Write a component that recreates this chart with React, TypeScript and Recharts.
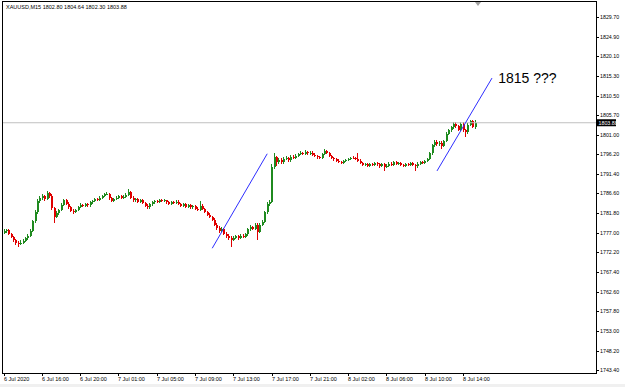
import { ComposedChart, Bar, XAxis, YAxis, ReferenceLine, ReferenceDot } from 'recharts';

// XAUUSD M15, 6 Jul 12:00 -> 8 Jul 15:15
const FIRST_OPEN = 1777.0;
const closes = [
  1777.3, 1777.6, 1776.8, 1776.0, 1775.2, 1774.5, 1774.2, 1774.6, 1775.0, 1775.6,
  1776.3, 1777.5, 1779.8, 1782.0, 1784.8, 1785.4, 1785.9, 1785.2, 1786.6, 1786.0,
  1783.0, 1780.8, 1781.8, 1782.5, 1783.8, 1784.9, 1784.0, 1783.2, 1782.4, 1782.0,
  1782.5, 1783.3, 1783.8, 1783.5, 1784.0, 1783.7, 1784.4, 1784.8, 1785.3, 1785.0,
  1785.6, 1786.0, 1786.4, 1786.5, 1785.4, 1784.8, 1785.3, 1785.6, 1785.9, 1785.5,
  1785.8, 1786.3, 1787.0, 1785.6, 1784.9, 1785.2, 1784.6, 1785.0, 1784.2, 1783.6,
  1783.2, 1783.9, 1784.4, 1784.8, 1784.6, 1785.0, 1784.7, 1784.9, 1784.4, 1784.1,
  1784.5, 1784.2, 1784.6, 1784.0, 1783.6, 1783.9, 1783.4, 1783.8, 1783.2, 1783.5,
  1782.9, 1782.6, 1783.6, 1782.8, 1782.0, 1781.4, 1780.9, 1780.2, 1779.0, 1778.2,
  1777.4, 1777.9, 1776.8, 1776.2, 1775.8, 1775.3, 1775.7, 1776.1, 1775.7, 1776.3,
  1776.0, 1776.6, 1777.8, 1778.4, 1778.0, 1778.9, 1777.2, 1779.0, 1779.6, 1782.0,
  1784.0, 1784.5, 1793.0, 1795.5, 1794.3, 1794.8, 1794.2, 1795.0, 1795.3, 1794.7,
  1795.6, 1795.2, 1795.8, 1796.2, 1796.5, 1796.3, 1796.7, 1796.4, 1796.6, 1796.1,
  1795.8, 1795.5, 1795.2, 1796.3, 1796.9, 1796.6, 1795.8, 1795.2, 1794.9, 1794.6,
  1794.3, 1794.0, 1794.5, 1794.8, 1795.0, 1795.3, 1795.2, 1795.0, 1794.6, 1794.0,
  1793.6, 1793.8, 1793.4, 1793.7, 1793.5, 1794.0, 1793.7, 1793.3, 1793.8, 1793.0,
  1793.4, 1793.9, 1793.6, 1794.2, 1793.9, 1794.1, 1793.6, 1793.3, 1793.8, 1793.5,
  1794.0, 1793.6, 1793.2, 1793.9, 1794.2, 1794.0, 1794.5, 1795.0, 1796.4, 1798.4,
  1799.2, 1798.6, 1799.0, 1798.2, 1799.4, 1801.2, 1802.0, 1802.8, 1803.5, 1803.0,
  1802.2, 1803.6, 1802.0, 1801.5, 1803.4, 1804.2, 1802.8, 1803.88,
];
const highs = [
  1777.8, 1778.0, 1777.9, 1777.0, 1776.3, 1775.5, 1774.9, 1775.1, 1775.4, 1776.0,
  1776.8, 1778.0, 1780.2, 1782.5, 1785.2, 1786.0, 1786.5, 1786.3, 1787.3, 1787.0,
  1786.4, 1783.4, 1782.2, 1782.9, 1784.2, 1785.3, 1785.3, 1784.4, 1783.6, 1782.8,
  1782.9, 1783.6, 1784.2, 1784.1, 1784.3, 1784.3, 1784.7, 1785.1, 1785.6, 1785.6,
  1785.9, 1786.3, 1786.7, 1787.0, 1786.8, 1785.7, 1785.6, 1785.9, 1786.2, 1786.2,
  1786.1, 1786.6, 1787.6, 1787.3, 1785.9, 1785.5, 1785.5, 1785.3, 1785.3, 1784.5,
  1783.9, 1784.2, 1784.7, 1785.1, 1785.1, 1785.3, 1785.3, 1785.2, 1785.1, 1784.7,
  1784.8, 1784.8, 1784.9, 1784.9, 1784.3, 1784.2, 1784.2, 1784.1, 1784.1, 1783.8,
  1783.8, 1783.2, 1784.8, 1783.9, 1783.1, 1782.3, 1781.7, 1781.2, 1780.5, 1779.4,
  1778.6, 1778.3, 1778.2, 1777.2, 1776.6, 1776.1, 1776.1, 1776.5, 1776.5, 1776.6,
  1776.7, 1776.9, 1778.1, 1778.8, 1778.7, 1779.3, 1779.3, 1779.4, 1780.2, 1782.4,
  1784.4, 1785.0, 1793.8, 1796.4, 1795.8, 1795.3, 1795.2, 1795.5, 1795.8, 1795.6,
  1796.0, 1795.9, 1796.3, 1796.6, 1796.9, 1796.8, 1797.1, 1797.0, 1796.9, 1796.9,
  1796.4, 1796.1, 1795.8, 1796.6, 1797.4, 1797.2, 1796.8, 1796.1, 1795.5, 1795.2,
  1794.9, 1794.6, 1794.8, 1795.1, 1795.3, 1795.6, 1795.7, 1795.5, 1796.4, 1794.9,
  1794.3, 1794.1, 1794.1, 1794.0, 1794.0, 1794.3, 1794.3, 1794.0, 1794.1, 1794.1,
  1793.7, 1794.2, 1794.2, 1794.5, 1794.5, 1794.4, 1794.4, 1793.9, 1794.1, 1794.1,
  1794.3, 1794.3, 1793.9, 1794.2, 1794.5, 1794.5, 1794.8, 1795.3, 1796.8, 1798.8,
  1799.6, 1799.7, 1799.4, 1799.3, 1799.7, 1801.6, 1802.4, 1803.2, 1804.1, 1804.0,
  1803.4, 1804.0, 1804.1, 1802.4, 1803.7, 1804.6, 1804.5, 1804.64,
];
const lows = [
  1776.7, 1777.0, 1776.5, 1775.7, 1774.8, 1774.0, 1773.6, 1773.9, 1774.3, 1774.8,
  1775.3, 1776.0, 1777.2, 1779.4, 1781.6, 1784.3, 1785.0, 1784.8, 1785.0, 1785.6,
  1782.6, 1779.4, 1780.5, 1781.4, 1782.2, 1783.5, 1783.7, 1782.8, 1782.0, 1781.6,
  1781.7, 1782.2, 1783.0, 1783.2, 1783.2, 1783.4, 1783.4, 1784.1, 1784.5, 1784.7,
  1784.7, 1785.3, 1785.7, 1786.1, 1785.1, 1784.4, 1784.5, 1785.0, 1785.3, 1785.2,
  1785.2, 1785.5, 1786.0, 1785.3, 1784.5, 1784.6, 1784.3, 1784.3, 1783.9, 1783.2,
  1782.8, 1782.9, 1783.6, 1784.1, 1784.3, 1784.3, 1784.4, 1784.4, 1784.1, 1783.8,
  1783.8, 1783.9, 1783.9, 1783.7, 1783.3, 1783.3, 1783.0, 1783.1, 1782.9, 1782.9,
  1782.6, 1782.2, 1782.3, 1782.5, 1781.7, 1781.0, 1780.5, 1779.8, 1778.6, 1777.7,
  1777.0, 1777.1, 1776.4, 1775.8, 1775.2, 1773.5, 1775.0, 1775.4, 1775.2, 1775.4,
  1775.6, 1775.8, 1776.3, 1777.5, 1777.6, 1777.7, 1775.2, 1777.0, 1778.7, 1779.3,
  1781.6, 1783.6, 1784.2, 1792.6, 1793.2, 1793.9, 1793.8, 1793.9, 1794.7, 1794.3,
  1794.4, 1794.9, 1794.9, 1795.5, 1795.9, 1795.9, 1796.0, 1796.1, 1796.1, 1795.8,
  1795.5, 1795.1, 1794.9, 1795.0, 1796.0, 1796.3, 1795.5, 1794.9, 1794.5, 1794.3,
  1794.0, 1793.7, 1793.7, 1794.2, 1794.5, 1794.7, 1794.9, 1794.7, 1794.3, 1793.7,
  1793.2, 1793.3, 1793.1, 1793.1, 1793.2, 1793.2, 1793.4, 1792.9, 1793.0, 1792.2,
  1792.7, 1793.1, 1793.3, 1793.3, 1793.6, 1793.6, 1793.3, 1793.0, 1793.0, 1793.2,
  1793.2, 1793.3, 1792.0, 1792.9, 1793.6, 1793.7, 1793.7, 1794.2, 1794.7, 1796.1,
  1798.0, 1798.3, 1798.2, 1797.4, 1797.9, 1799.1, 1800.8, 1801.6, 1802.4, 1802.5,
  1801.8, 1801.9, 1801.6, 1800.5, 1801.2, 1803.0, 1802.5, 1802.30,
];
const SHIFT_SLOTS = 50; // empty bars on the right (chart shift)

const timeTickIdx = [0, 16, 32, 48, 64, 80, 96, 112, 128, 144, 160, 176, 192];
const timeLabels = [
  '6 Jul 2020', '6 Jul 16:00', '6 Jul 20:00', '7 Jul 01:00', '7 Jul 05:00', '7 Jul 09:00',
  '7 Jul 13:00', '7 Jul 17:00', '7 Jul 21:00', '8 Jul 02:00', '8 Jul 06:00', '8 Jul 10:00', '8 Jul 14:00',
];
const priceTicks = [
  1743.4, 1748.2, 1753.0, 1757.8, 1762.6, 1767.4, 1772.2, 1777.0, 1781.8, 1786.6,
  1791.4, 1796.2, 1801.0, 1805.7, 1810.5, 1815.3, 1820.1, 1824.9, 1829.7,
];
const LAST_PRICE = 1803.88;
const TITLE = 'XAUUSD,M15  1802.80 1804.64 1802.30 1803.88';

// hand drawn trend lines + note
const trendA = [{ x: 87, y: 1773.2 }, { x: 110, y: 1796.3 }];
const trendB = [{ x: 181, y: 1792.1 }, { x: 204, y: 1814.8 }];
const NOTE = '1815 ???';
const notePos = { x: 207, y: 1814.8 };

const GREEN = '#1f8a1f';
const RED = '#e00000';
const FONT = '"Liberation Sans", Arial, sans-serif';

const rows = [];
for (let i = 0; i < closes.length + SHIFT_SLOTS; i++) {
  if (i < closes.length) {
    const o = i === 0 ? FIRST_OPEN : closes[i - 1];
    rows.push({ i, o, c: closes[i], range: [lows[i], highs[i]] });
  } else {
    rows.push({ i });
  }
}

const Candle = (props) => {
  const { x, y, width, height, payload } = props;
  if (!payload || !payload.range || height == null) return null;
  const [lo, hi] = payload.range;
  const top0 = Math.min(y, y + height);
  const h = Math.abs(height);
  const k = hi > lo ? h / (hi - lo) : 0;
  const py = (v) => top0 + (hi - v) * k;
  const col = payload.c >= payload.o ? GREEN : RED;
  const cx = Math.floor(x + width / 2);
  const bTop = py(Math.max(payload.o, payload.c));
  const bBot = py(Math.min(payload.o, payload.c));
  return (
    <g shapeRendering="crispEdges">
      <rect x={cx} y={top0} width={1} height={Math.max(1, h)} fill={col} />
      <rect x={cx} y={bTop} width={2} height={Math.max(1, bBot - bTop)} fill={col} />
    </g>
  );
};

const TimeTick = ({ x, payload }) => {
  const n = timeTickIdx.indexOf(payload.value);
  return (
    <g>
      <line x1={Math.floor(x) + 0.5} x2={Math.floor(x) + 0.5} y1={373} y2={376} stroke="#000" />
      <text x={Math.floor(x)} y={381} fontSize={5.5} fill="#000" fontFamily={FONT}>{timeLabels[n]}</text>
    </g>
  );
};

const PriceTick = ({ y, payload }) => (
  <g>
    <line x1={597} x2={599} y1={Math.round(y) + 0.5} y2={Math.round(y) + 0.5} stroke="#000" />
    <text x={600} y={y + 2} fontSize={5.3} fill="#000" fontFamily={FONT}>{payload.value.toFixed(2)}</text>
  </g>
);

const PriceTag = ({ viewBox }) => {
  if (!viewBox) return null;
  const x = viewBox.x + viewBox.width + 1;
  return (
    <g>
      <rect x={x} y={viewBox.y - 3.5} width={19} height={7} fill="#000" />
      <text x={x + 1.5} y={viewBox.y + 2} fontSize={5.3} fill="#fff" fontFamily={FONT}>{LAST_PRICE.toFixed(2)}</text>
    </g>
  );
};

const NoteLabel = ({ viewBox }) => {
  if (!viewBox) return null;
  return (
    <text x={viewBox.x} y={viewBox.y + 6} fontSize={14} fill="#000" fontFamily={FONT}>{NOTE}</text>
  );
};

export default function App() {
  return (
    <div style={{ position: 'fixed', left: 0, top: 0, width: 625, height: 387, background: '#fff', overflow: 'hidden' }}>
      <ComposedChart
        width={625}
        height={387}
        data={rows}
        margin={{ top: 2, right: 0, bottom: 0, left: 3 }}
        barCategoryGap={0}
        barGap={0}
      >
        <XAxis
          dataKey="i"
          type="category"
          height={14}
          ticks={timeTickIdx}
          interval={0}
          axisLine={false}
          tickLine={false}
          tick={(p) => <TimeTick {...p} />}
        />
        <YAxis
          orientation="right"
          width={29}
          type="number"
          domain={[1742.7, 1833.4]}
          allowDataOverflow
          ticks={priceTicks}
          interval={0}
          axisLine={false}
          tickLine={false}
          tick={(p) => <PriceTick {...p} />}
        />
        <ReferenceLine y={LAST_PRICE} stroke="#c0c0c0" label={(p) => <PriceTag {...p} />} />
        <Bar dataKey="range" shape={Candle} isAnimationActive={false} />
        <ReferenceLine segment={trendA} stroke="#2e2eff" strokeWidth={1} />
        <ReferenceLine segment={trendB} stroke="#2e2eff" strokeWidth={1} />
        <ReferenceDot x={notePos.x} y={notePos.y} r={1} fill="none" stroke="none" label={(p) => <NoteLabel {...p} />} />
      </ComposedChart>
      <svg width={625} height={387} style={{ position: 'absolute', left: 0, top: 0, pointerEvents: 'none' }}>
        <rect x={2.5} y={1.5} width={594} height={372} fill="none" stroke="#000" />
        <polygon points="475,2 481,2 478,6" fill="#a0a0a0" />
        <text x={6} y={9} fontSize={5.5} fill="#000" fontFamily={FONT}>{TITLE}</text>
        <rect x={0} y={384} width={625} height={3} fill="#f0f0f0" />
      </svg>
    </div>
  );
}
